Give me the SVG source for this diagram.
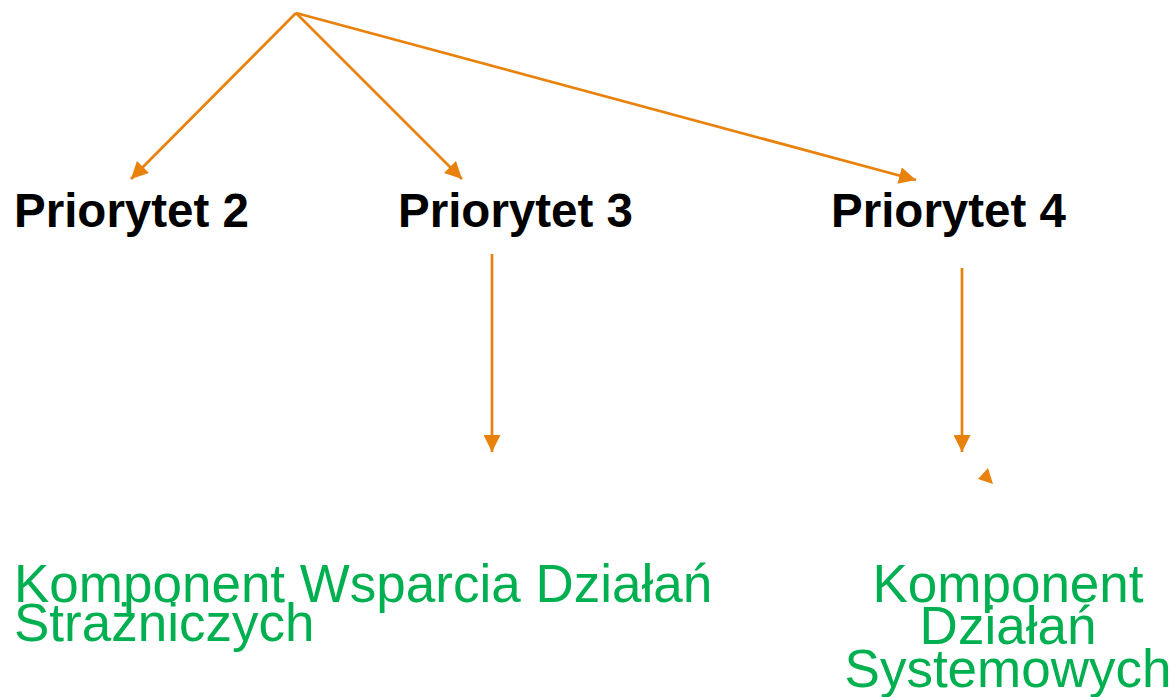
<svg xmlns="http://www.w3.org/2000/svg" width="1176" height="697" viewBox="0 0 1176 697">
<style>
.c{stroke:#E8820C;stroke-width:2.7;fill:none}
.p{font-family:"Liberation Sans",Arial,sans-serif;font-weight:bold;font-size:47.5px;fill:#000}
.g{font-family:"Liberation Sans",Arial,sans-serif;font-size:53px;fill:#00B050}
</style>
<defs>
<marker id="ah" markerUnits="userSpaceOnUse" markerWidth="17" markerHeight="17" viewBox="0 0 16 16" refX="16" refY="8" orient="auto">
<path d="M0,0 L16,8 L0,16 z" fill="#E8820C"/>
</marker>
</defs>
<rect width="1176" height="697" fill="#fff"/>
<g id="connectors">
<line class="c" x1="296" y1="13" x2="131" y2="179" marker-end="url(#ah)"/>
<line class="c" x1="296" y1="13" x2="462" y2="179" marker-end="url(#ah)"/>
<line class="c" x1="296" y1="13" x2="916" y2="180" marker-end="url(#ah)"/>
<line class="c" x1="492" y1="254" x2="492" y2="452" marker-end="url(#ah)"/>
<line class="c" x1="962" y1="268" x2="962" y2="452" marker-end="url(#ah)"/>
<polygon points="978,479 988,468 993,484" fill="#E8820C"/>
</g>
<g id="p2"><text class="p" x="14" y="227">Priorytet 2</text></g>
<g id="p3"><text class="p" x="398" y="227">Priorytet 3</text></g>
<g id="p4"><text class="p" x="831" y="227">Priorytet 4</text></g>
<g id="kwds">
<text class="g" x="14" y="602">Komponent Wsparcia Działań</text>
<text class="g" x="14" y="641">Strażniczych</text>
</g>
<g id="kds">
<text class="g" x="1008" y="602" text-anchor="middle">Komponent</text>
<text class="g" x="1008" y="644" text-anchor="middle">Działań</text>
<text class="g" x="1008" y="687" text-anchor="middle">Systemowych</text>
</g>
</svg>
